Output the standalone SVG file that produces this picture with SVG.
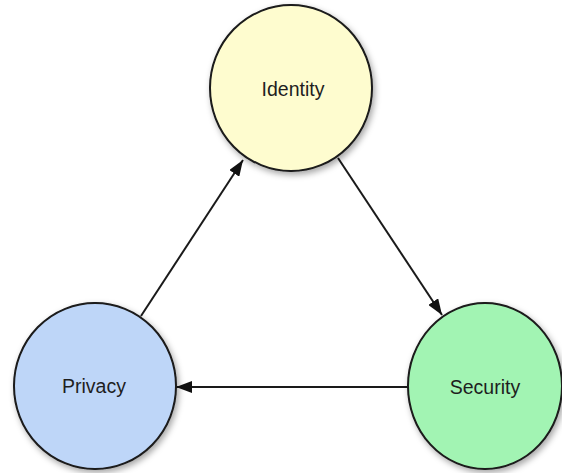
<svg xmlns="http://www.w3.org/2000/svg" width="562" height="473" viewBox="0 0 562 473">
  <style>
    .node { stroke: #1a1a1a; stroke-width: 2; filter: url(#shadow); }
    .label { font-family: "Liberation Sans", Arial, sans-serif; font-size: 19.5px; fill: #1e1e1e; text-anchor: middle; }
    .edge { stroke: #1a1a1a; stroke-width: 2; fill: none; marker-end: url(#arrow); }
  </style>
  <defs>
    <filter id="shadow" x="-20%" y="-20%" width="150%" height="150%">
      <feDropShadow dx="2" dy="3" stdDeviation="3" flood-color="#000" flood-opacity="0.35"/>
    </filter>
    <marker id="arrow" viewBox="0 0 10 10" refX="10" refY="5" markerWidth="8" markerHeight="7" markerUnits="userSpaceOnUse" orient="auto">
      <path d="M0,0 L10,5 L0,10 z" fill="#111"/>
    </marker>
  </defs>
  <rect width="562" height="473" fill="#ffffff"/>
  <g id="connectors">
    <line class="edge" x1="141" y1="316" x2="243" y2="160" style="marker-end:url(#arrowBig)"/>
    <line class="edge" x1="338" y1="158" x2="442" y2="315" style="marker-end:url(#arrowBig)"/>
    <line class="edge" x1="408" y1="387" x2="176" y2="387" style="marker-end:url(#arrowBig)"/>
  </g>
  <defs>
    <marker id="arrowBig" viewBox="0 0 16 12" refX="16" refY="6" markerWidth="16" markerHeight="12" markerUnits="userSpaceOnUse" orient="auto">
      <path d="M0,0 L16,6 L0,12 z" fill="#111"/>
    </marker>
  </defs>
  <g id="identity">
    <ellipse class="node" cx="291" cy="88" rx="81" ry="83" fill="#fefccf"/>
    <text class="label" x="293" y="96">Identity</text>
  </g>
  <g id="privacy">
    <ellipse class="node" cx="95" cy="386" rx="81" ry="83" fill="#bed6f8"/>
    <text class="label" x="94" y="393">Privacy</text>
  </g>
  <g id="security">
    <ellipse class="node" cx="485" cy="386" rx="77" ry="83" fill="#a2f4b3"/>
    <text class="label" x="485" y="394">Security</text>
  </g>
</svg>
